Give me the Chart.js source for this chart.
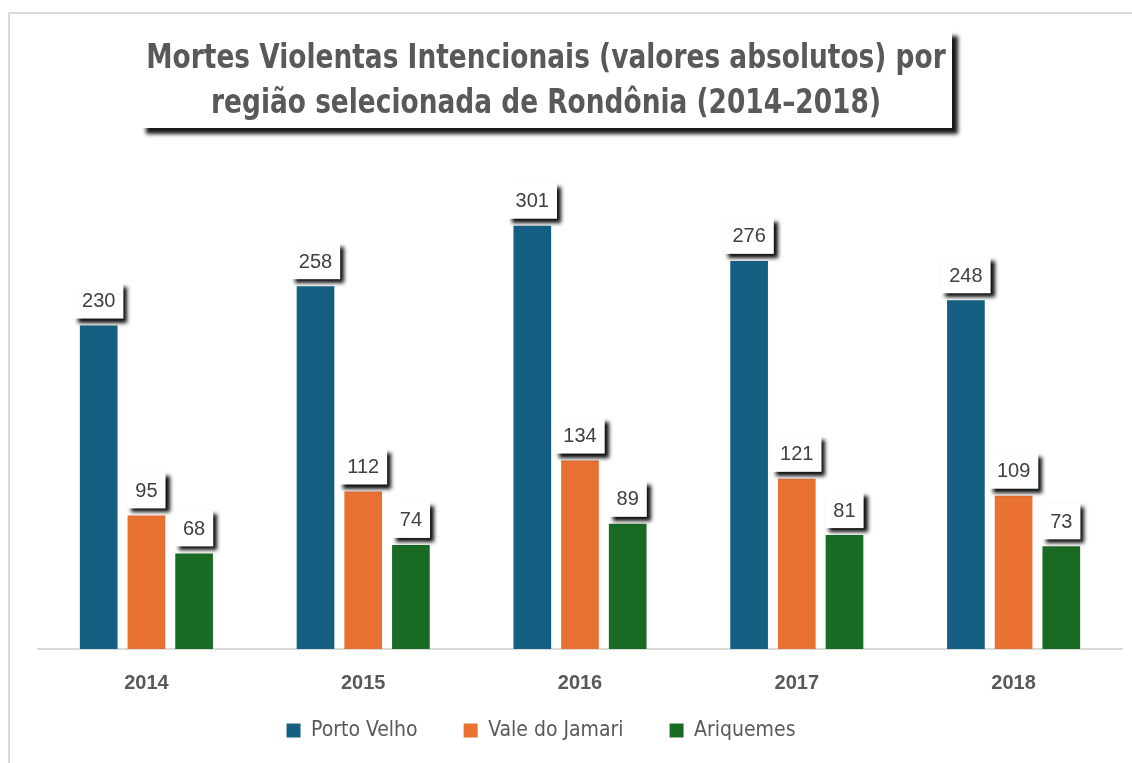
<!DOCTYPE html>
<html>
<head>
<meta charset="utf-8">
<script src="https://cdn.jsdelivr.net/npm/chart.js@4.4.1/dist/chart.umd.min.js"></script>
<style>
  html, body { margin: 0; padding: 0; background: #ffffff; }
  body { width: 1132px; height: 763px; position: relative; overflow: hidden; }
  #frame { position: absolute; left: 8px; top: 12px; width: 1200px; height: 800px;
           border-top: 2px solid #d9d9d9; border-left: 2px solid #d9d9d9; box-sizing: border-box; }
  #wrap { position: absolute; left: 0; top: 0; width: 1132px; height: 763px; }
  #title { position: absolute; left: 140px; top: 30px; width: 812px; height: 98px;
           background: #ffffff; box-shadow: 6px 6px 4px rgba(0,0,0,0.9);
           z-index: 2; }
  #title div { position: absolute; left: -144px; width: 1100px; text-align: center; white-space: nowrap;
           font-family: "Liberation Sans Narrow", "DejaVu Sans Condensed", "Roboto", sans-serif;
           font-weight: bold; font-size: 33px; line-height: 45px; color: #595959;
           transform: scaleX(0.89); transform-origin: 550px 0; }
</style>
</head>
<body>
<div id="frame"></div>
<div id="wrap"><canvas id="c" width="1132" height="763"></canvas></div>
<div id="title"><div style="top:4px">Mortes Violentas Intencionais (valores absolutos) por</div><div style="top:49px">região selecionada de Rondônia (2014–2018)</div></div>
<script>
const categories = ["2014", "2015", "2016", "2017", "2018"];
const seriesNames = ["Porto Velho", "Vale do Jamari", "Ariquemes"];
const portoVelho = [230, 258, 301, 276, 248];
const valeDoJamari = [95, 112, 134, 121, 109];
const ariquemes = [68, 74, 89, 81, 73];
const seriesColors = ["#156082", "#E97132", "#196B24"];

const labelBoxes = {
  id: 'labelBoxes',
  afterDatasetsDraw(chart) {
    const ctx = chart.ctx;
    ctx.save();
    ctx.font = '20px "Liberation Sans", Arial, sans-serif';
    chart.data.datasets.forEach((ds, di) => {
      const meta = chart.getDatasetMeta(di);
      meta.data.forEach((bar, i) => {
        const txt = String(ds.data[i]);
        const tw = ctx.measureText(txt).width;
        const w = tw + 16, h = 36;
        const x = bar.x - w / 2, y = bar.y - 7 - h;
        ctx.save();
        ctx.shadowColor = 'rgba(0,0,0,0.95)';
        ctx.shadowBlur = 4;
        ctx.shadowOffsetX = 4;
        ctx.shadowOffsetY = 4;
        ctx.fillStyle = '#ffffff';
        ctx.fillRect(x, y, w, h);
        ctx.restore();
        ctx.fillStyle = '#404040';
        ctx.textAlign = 'center';
        ctx.textBaseline = 'middle';
        ctx.fillText(txt, bar.x, y + h / 2 + 1);
      });
    });
    ctx.restore();
  }
};

const trailing = [6, 6, 13];

new Chart(document.getElementById('c'), {
  type: 'bar',
  data: {
    labels: categories,
    datasets: [
      { label: seriesNames[0], data: portoVelho, backgroundColor: seriesColors[0] },
      { label: seriesNames[1], data: valeDoJamari, backgroundColor: seriesColors[1] },
      { label: seriesNames[2], data: ariquemes, backgroundColor: seriesColors[2] }
    ]
  },
  options: {
    responsive: false,
    animation: false,
    layout: { padding: { left: 38, right: 10, top: 199, bottom: 12 } },
    datasets: { bar: { barPercentage: 0.79, categoryPercentage: 0.66 } },
    scales: {
      x: {
        grid: { display: false },
        border: { display: true, color: '#d9d9d9', width: 2 },
        ticks: { color: '#595959', padding: 14,
                 font: { family: '"Liberation Sans", Arial, sans-serif', size: 20, weight: 'bold' } },
        afterFit(scale) { scale.height = 61; }
      },
      y: { display: false, min: 0, max: 320 }
    },
    plugins: {
      legend: {
        position: 'bottom',
        labels: {
          boxWidth: 14, boxHeight: 14, padding: 10,
          color: '#595959',
          font: { family: '"Liberation Sans Narrow", "DejaVu Sans Condensed", sans-serif', size: 21 },
          generateLabels(chart) {
            const items = Chart.defaults.plugins.legend.labels.generateLabels(chart);
            items.forEach((it, i) => { it.text = it.text + ' '.repeat(trailing[i]); });
            return items;
          }
        }
      },
      title: { display: false },
      tooltip: { enabled: false }
    }
  },
  plugins: [labelBoxes]
});
</script>
</body>
</html>
